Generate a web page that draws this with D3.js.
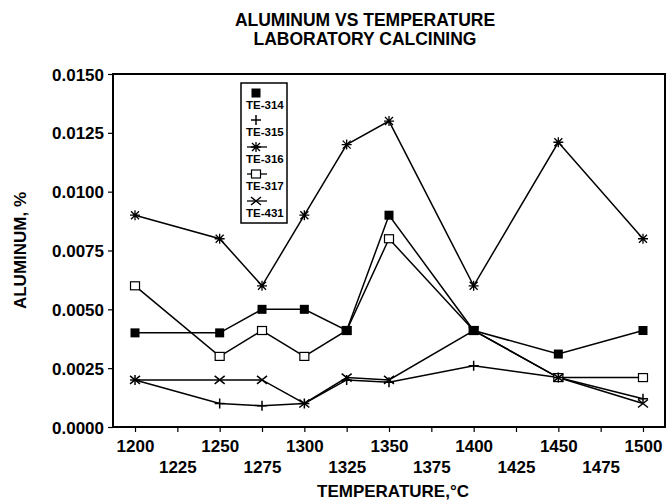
<!DOCTYPE html>
<html>
<head>
<meta charset="utf-8">
<script src="https://d3js.org/d3.v7.min.js"></script>
<style>
  body { margin: 0; background: #fff; }
  text { font-family: "Liberation Sans", Arial, sans-serif; font-weight: bold; fill: #000; }
</style>
</head>
<body>
<div id="chart"></div>
<script>
//temperatures (x values)
var temps = [1200, 1250, 1275, 1300, 1325, 1350, 1400, 1450, 1500];

//series values, aluminum %
var te314 = [0.0040, 0.0040, 0.0050, 0.0050, 0.0041, 0.0090, 0.0041, 0.0031, 0.0041];
var te315 = [0.0020, 0.0010, 0.0009, 0.0010, 0.0020, 0.0019, 0.0026, 0.0021, 0.0012];
var te316 = [0.0090, 0.0080, 0.0060, 0.0090, 0.0120, 0.0130, 0.0060, 0.0121, 0.0080];
var te317 = [0.0060, 0.0030, 0.0041, 0.0030, 0.0041, 0.0080, 0.0041, 0.0021, 0.0021];
var te431 = [0.0020, 0.0020, 0.0020, 0.0010, 0.0021, 0.0020, 0.0041, 0.0021, 0.0010];

var seriesNames = ["TE-314", "TE-315", "TE-316", "TE-317", "TE-431"];
var seriesMarkers = ["fillsquare", "plus", "asterisk", "opensquare", "cross"];

//tick labels
var xTicks = [1200, 1225, 1250, 1275, 1300, 1325, 1350, 1375, 1400, 1425, 1450, 1475, 1500];
var yTicks = [0, 0.0025, 0.005, 0.0075, 0.01, 0.0125, 0.015];

var series = [te314, te315, te316, te317, te431].map((vals, i) => ({
    name: seriesNames[i],
    marker: seriesMarkers[i],
    points: temps.map((t, j) => ({t: t, v: vals[j]}))
}));

//dimensions
var margin = {top: 74, right: 3, bottom: 73, left: 113};
var width = 668 - margin.left - margin.right;
var height = 500 - margin.top - margin.bottom;

var svg = d3.select("#chart")
    .append("svg")
    .attr("width", 668)
    .attr("height", 500);

var g = svg.append("g")
    .attr("transform", "translate(" + margin.left + "," + margin.top + ")");

var x = d3.scaleLinear()
    .domain([1187, 1513])
    .range([0, width]);

var y = d3.scaleLinear()
    .domain([0, 0.015])
    .range([height, 0]);

//title, two lines
svg.append("text")
    .attr("x", 365)
    .attr("y", 26)
    .attr("text-anchor", "middle")
    .style("font-size", "17.5px")
    .text("ALUMINUM VS TEMPERATURE");

svg.append("text")
    .attr("x", 365)
    .attr("y", 45)
    .attr("text-anchor", "middle")
    .style("font-size", "17.5px")
    .text("LABORATORY CALCINING");

//x axis, labels on two staggered rows
var xAxis = g.append("g")
    .attr("transform", "translate(0," + height + ")")
    .call(d3.axisBottom(x).tickValues(xTicks).tickSize(5).tickSizeOuter(0).tickFormat(d3.format("d")));

xAxis.selectAll("text")
    .style("font-size", "17px")
    .attr("y", (d, i) => i % 2 == 0 ? 25 : 46)
    .attr("dy", null);

//y axis
var yAxis = g.append("g")
    .call(d3.axisLeft(y).tickValues(yTicks).tickSize(5).tickSizeOuter(0).tickFormat(d3.format(".4f")));

yAxis.selectAll("text")
    .style("font-size", "17px")
    .attr("x", -9)
    .attr("dy", "0.36em");

g.selectAll(".domain").remove();
g.selectAll(".tick line").attr("stroke", "#000").attr("stroke-width", 1.2);

//plot frame
g.append("rect")
    .attr("width", width)
    .attr("height", height)
    .attr("fill", "none")
    .attr("stroke", "#000")
    .attr("stroke-width", 2);

//axis titles
svg.append("text")
    .attr("transform", "rotate(-90)")
    .attr("x", -(margin.top + height / 2))
    .attr("y", 26)
    .attr("text-anchor", "middle")
    .style("font-size", "17px")
    .text("ALUMINUM, %");

svg.append("text")
    .attr("x", 393)
    .attr("y", 497)
    .attr("text-anchor", "middle")
    .style("font-size", "17px")
    .text("TEMPERATURE,\u00b0C");

//marker drawing
function drawMarker(sel, type) {
    if (type == "fillsquare") {
        sel.append("rect").attr("x", -4.5).attr("y", -4.5).attr("width", 9).attr("height", 9)
            .attr("fill", "#000");
    } else if (type == "opensquare") {
        sel.append("rect").attr("x", -4.5).attr("y", -4).attr("width", 9).attr("height", 8)
            .attr("fill", "#fff").attr("stroke", "#000").attr("stroke-width", 1.2);
    } else if (type == "plus") {
        sel.append("path").attr("d", "M-5,0H5M0,-5V5")
            .attr("stroke", "#000").attr("stroke-width", 1.5);
    } else if (type == "asterisk") {
        sel.append("path").attr("d", "M-5,0H5M-4,-4L4,4M-4,4L4,-4M0,-5V5")
            .attr("stroke", "#000").attr("stroke-width", 1.3);
    } else if (type == "cross") {
        sel.append("path").attr("d", "M-5,-4L5,4M-5,4L5,-4")
            .attr("stroke", "#000").attr("stroke-width", 1.5);
    }
}

var line = d3.line()
    .x((d) => x(d.t))
    .y((d) => y(d.v));

//lines
g.append("g")
    .selectAll("path")
    .data(series)
    .enter()
    .append("path")
    .attr("d", (d) => line(d.points))
    .attr("fill", "none")
    .attr("stroke", "#000")
    .attr("stroke-width", 1.5);

//markers, open squares first so the filled ones sit on top
var drawOrder = [3, 0, 1, 2, 4];
drawOrder.forEach((k) => {
    var s = series[k];
    g.append("g")
        .selectAll("g")
        .data(s.points)
        .enter()
        .append("g")
        .attr("transform", (d) => "translate(" + x(d.t) + "," + y(d.v) + ")")
        .each(function() { drawMarker(d3.select(this), s.marker); });
});

//legend
var legend = svg.append("g")
    .attr("transform", "translate(241,83)");

legend.append("rect")
    .attr("width", 46)
    .attr("height", 140)
    .attr("fill", "#fff")
    .attr("stroke", "#000")
    .attr("stroke-width", 1.5);

series.forEach((s, i) => {
    var item = legend.append("g")
        .attr("transform", "translate(15," + (10 + i * 27) + ")");
    if (s.marker != "fillsquare" && s.marker != "plus") {
        item.append("line")
            .attr("x1", -9).attr("x2", 11)
            .attr("stroke", "#000").attr("stroke-width", 1.3);
    }
    drawMarker(item, s.marker);
    legend.append("text")
        .attr("x", 5)
        .attr("y", 26 + i * 27)
        .style("font-size", "11.5px")
        .text(s.name);
});
</script>
</body>
</html>
